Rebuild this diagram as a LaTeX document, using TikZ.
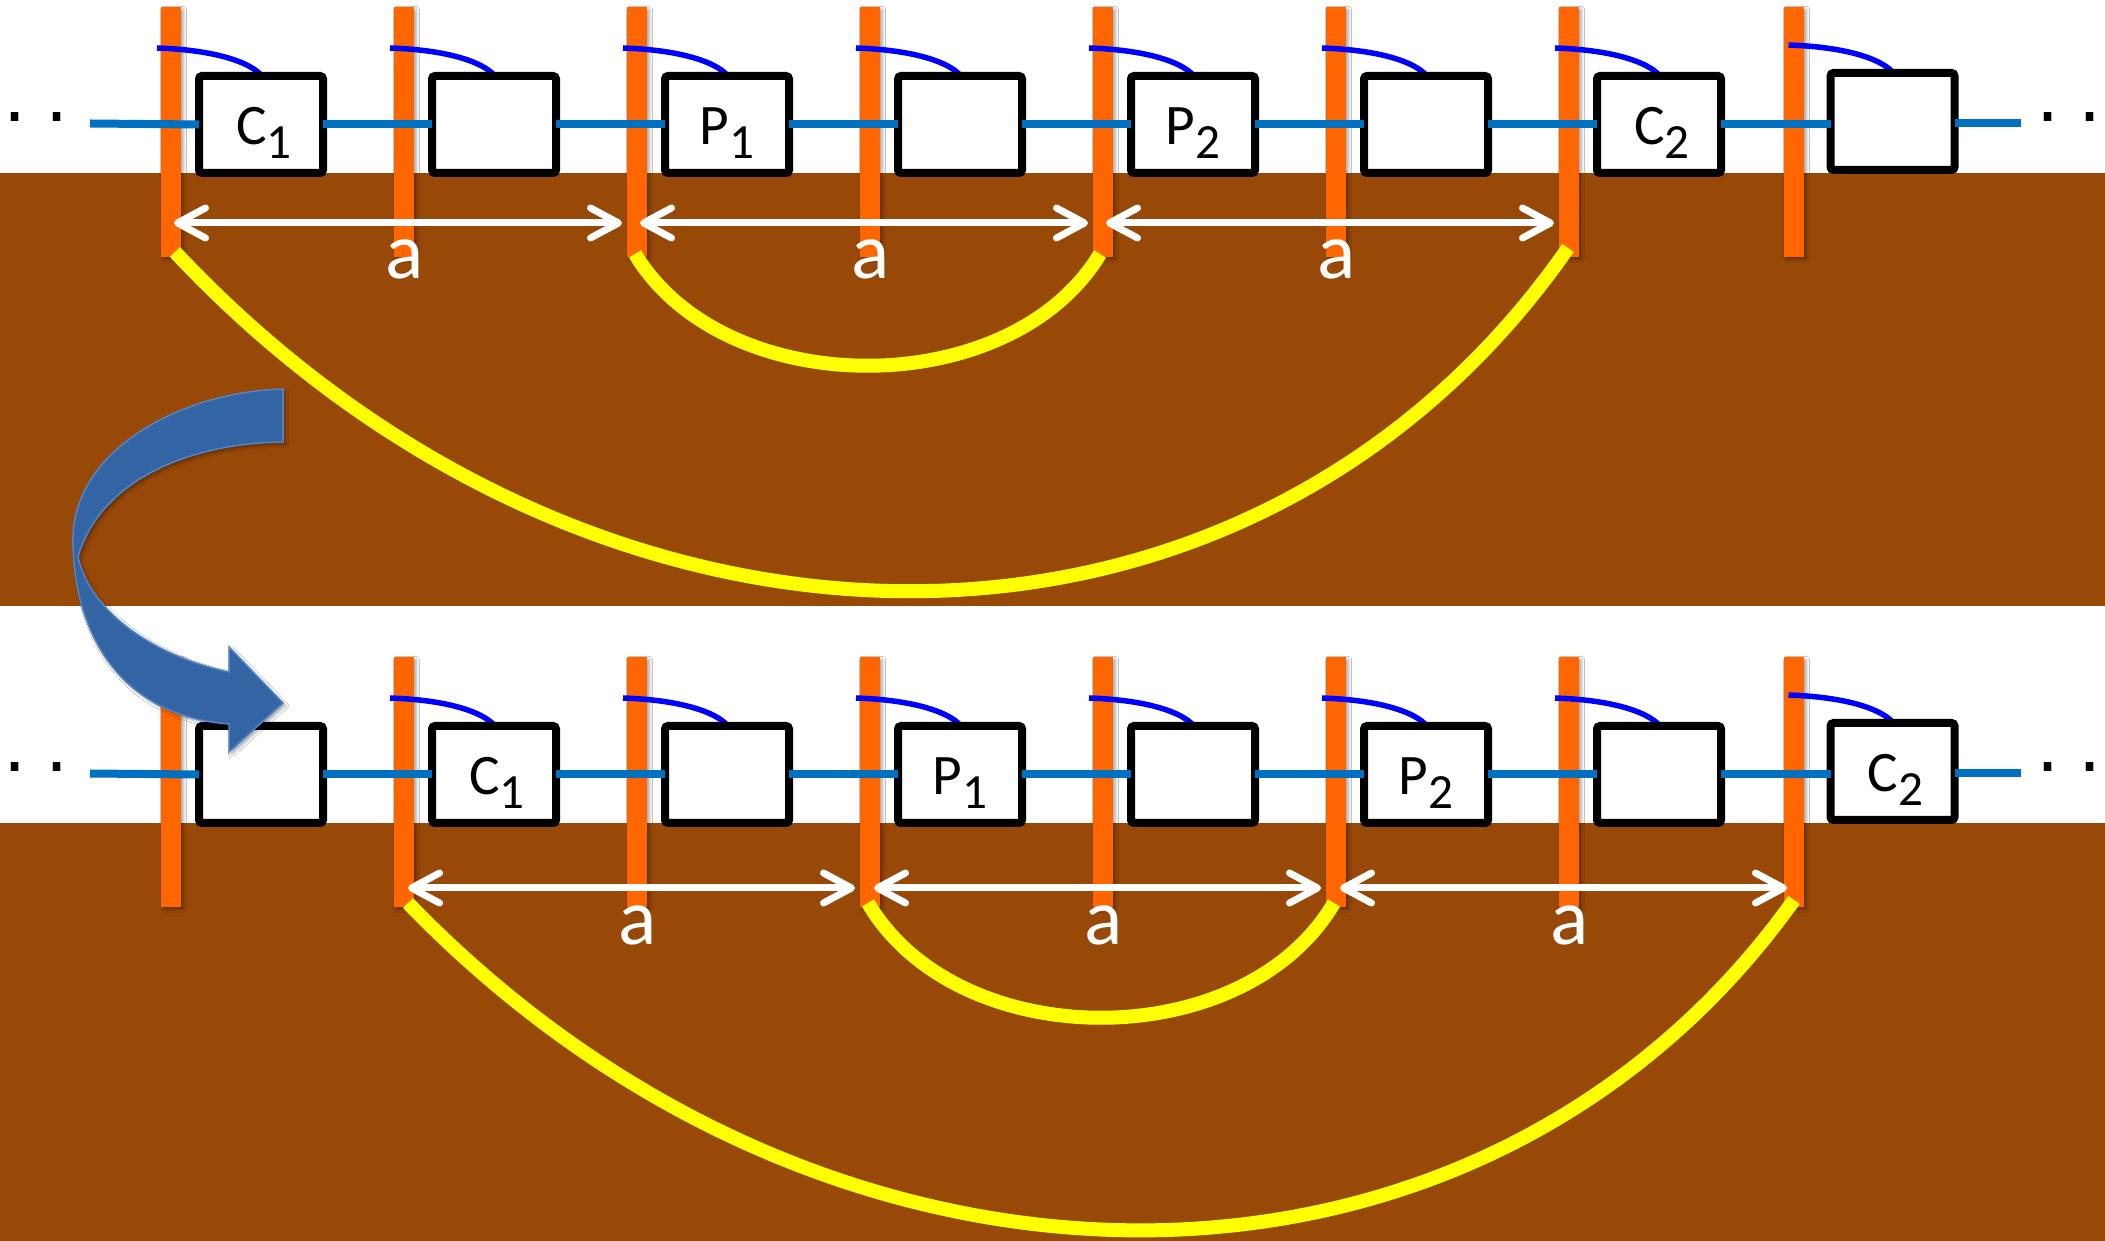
\documentclass[tikz,border=0pt]{standalone}
\usepackage{fontspec}
\setmainfont{Carlito}
\newfontfamily\dotfont{DejaVu Sans}
\usetikzlibrary{arrows.meta,shadows.blur}

\definecolor{soil}{RGB}{152,72,7}
\definecolor{polec}{RGB}{255,102,0}
\definecolor{chainc}{RGB}{0,112,192}
\definecolor{hookc}{RGB}{0,0,255}
\definecolor{bendc}{RGB}{255,255,0}
\definecolor{turnfill}{RGB}{51,101,164}
\definecolor{turnedge}{RGB}{84,132,196}

% lowered subscript digit for the cell tags
\newcommand\sbx[1]{\raisebox{-3.9pt}{\fontsize{14}{15}\selectfont #1}}

\begin{document}
\begin{tikzpicture}[x=0.1mm,y=-0.1mm,
  softshadow/.style={blur shadow={shadow xshift=0.25mm,shadow yshift=-0.25mm,shadow blur radius=0.3mm,shadow opacity=35}},
  pole/.style={rectangle,fill=polec,minimum width=2mm,minimum height=25mm,inner sep=0,outer sep=0,softshadow},
  cell/.style={rectangle,draw=black,line width=0.8mm,fill=white,rounded corners=0.3mm,
    minimum width=12.4mm,minimum height=9.7mm,inner sep=0,outer sep=0},
  tag/.style={font=\fontsize{16.3}{18}\selectfont,anchor=base,inner sep=0},
  span/.style={white,line width=0.7mm,
    {Straight Barb[length=2.8mm,width=3.0mm,round]}-{Straight Barb[length=2.8mm,width=3.0mm,round]}},
  dist/.style={white,font=\fontsize{22.7}{26}\selectfont,anchor=base,inner sep=0},
  arcline/.style={bendc,line width=1.4mm},
  hookline/.style={hookc,line width=0.55mm},
  chainline/.style={chainc,line width=0.8mm},
  dots/.style={font=\dotfont\fontsize{20.7}{22}\selectfont,anchor=base west,inner sep=0}
]
\useasboundingbox (0,0) rectangle (2105,1241);
\fill[white] (0,0) rectangle (2105,1241);
\fill[soil] (0,173) rectangle (2105,606);
\fill[soil] (0,823) rectangle (2105,1241);

% two copies of the chain: upper (u) and lower (d)
\foreach \r/\dy in {u/0,d/650}{
  \begin{scope}[shift={(0,\dy)}]
    \foreach \i/\x in {1/171,2/404,3/637,4/870,5/1103,6/1336,7/1569,8/1794}
      \node[pole] (\r p\i) at (\x,132) {};
    \foreach \i/\x/\y in {1/261/124.5,2/494/124.5,3/727/124.5,4/960/124.5,5/1193/124.5,6/1426/124.5,7/1659/124.5,8/1892.5/121.5}{
      \draw[hookline] ([shift={(-104,-76.5)}]\x,\y) .. controls +(58,2) and +(-12,-14) .. ([shift={(1,-48.5)}]\x,\y);
      \node[cell] (\r c\i) at (\x,\y) {};
    }
    \coordinate (\r L) at (90,123.5);
    \coordinate (\r R) at (2021,123.5);
    % the chain runs from cell to cell
    \draw[chainline] (\r L) -- (\r c1.west);
    \foreach \i/\j in {1/2,2/3,3/4,4/5,5/6,6/7}
      \draw[chainline] (\r c\i.east) -- (\r c\j.west);
    \draw[chainline] (\r c7.east) -- (\r c8.west |- \r c7.east);
    \draw[chainline] (\r c8.east |- \r R) -- (\r R);
    \node[dots] (\r dl) at (3,122) {.\hspace{0.26em}.};
    \node[dots] (\r dr) at (2036,122) {.\hspace{0.26em}.};
  \end{scope}
}

% cell tags
\node[tag] (tu1) at ([shift={(3,20.5)}]uc1.center) {C\sbx{1}};
\node[tag] (tu3) at ([shift={(0,20.5)}]uc3.center) {P\sbx{1}};
\node[tag] (tu5) at ([shift={(0,20.5)}]uc5.center) {P\sbx{2}};
\node[tag] (tu7) at ([shift={(3,20.5)}]uc7.center) {C\sbx{2}};
\node[tag] (td2) at ([shift={(3,20.5)}]dc2.center) {C\sbx{1}};
\node[tag] (td4) at ([shift={(0,20.5)}]dc4.center) {P\sbx{1}};
\node[tag] (td6) at ([shift={(0,20.5)}]dc6.center) {P\sbx{2}};
\node[tag] (td8) at ([shift={(3,20.5)}]dc8.center) {C\sbx{2}};

% spacing arrows, upper chain
\draw[span] ([shift={(3,91)}]up1.center) -- ([shift={(-15,91)}]up3.center);
\draw[span] ([shift={(3,91)}]up3.center) -- ([shift={(-15,91)}]up5.center);
\draw[span] ([shift={(3,91)}]up5.center) -- ([shift={(-15,91)}]up7.center);
\node[dist] (au1) at ([shift={(1,147)}]up2.center) {a};
\node[dist] (au2) at ([shift={(1,147)}]up4.center) {a};
\node[dist] (au3) at ([shift={(1,147)}]up6.center) {a};

% spacing arrows, lower chain
\draw[span] ([shift={(4,106)}]dp2.center) -- ([shift={(-15,106)}]dp4.center);
\draw[span] ([shift={(4,106)}]dp4.center) -- ([shift={(-15,106)}]dp6.center);
\draw[span] ([shift={(4,106)}]dp6.center) -- ([shift={(-7,106)}]dp8.center);
\node[dist] (ad1) at ([shift={(1,162)}]dp3.center) {a};
\node[dist] (ad2) at ([shift={(1,162)}]dp5.center) {a};
\node[dist] (ad3) at ([shift={(1,162)}]dp7.center) {a};

% links between poles
\draw[arcline] ([shift={(4,120)}]up1.center) .. controls +(425,453) and +(-318,457) .. ([shift={(-1,116)}]up7.center);
\draw[arcline] ([shift={(-2,122)}]up3.center) .. controls +(90,149) and +(-90,149) .. ([shift={(-3,122)}]up5.center);
\draw[arcline] ([shift={(4,121)}]dp2.center) .. controls +(422,437) and +(-314,440) .. ([shift={(0,118)}]dp8.center);
\draw[arcline] ([shift={(-2,121)}]dp4.center) .. controls +(90,153) and +(-90,153) .. ([shift={(-2,121)}]dp6.center);

% curved shift arrow
\fill[turnfill,draw=turnedge,line width=0.15mm,softshadow]
  (283,389) .. controls (180,392) and (75,450) .. (73,537)
  .. controls (72,620) and (110,715) .. (229,724)
  -- (229,752) -- (283,703) -- (229,647) -- (229,672)
  .. controls (150,655) and (90,610) .. (78,557)
  .. controls (100,480) and (190,443) .. (283,442) -- cycle;
\end{tikzpicture}
\end{document}
